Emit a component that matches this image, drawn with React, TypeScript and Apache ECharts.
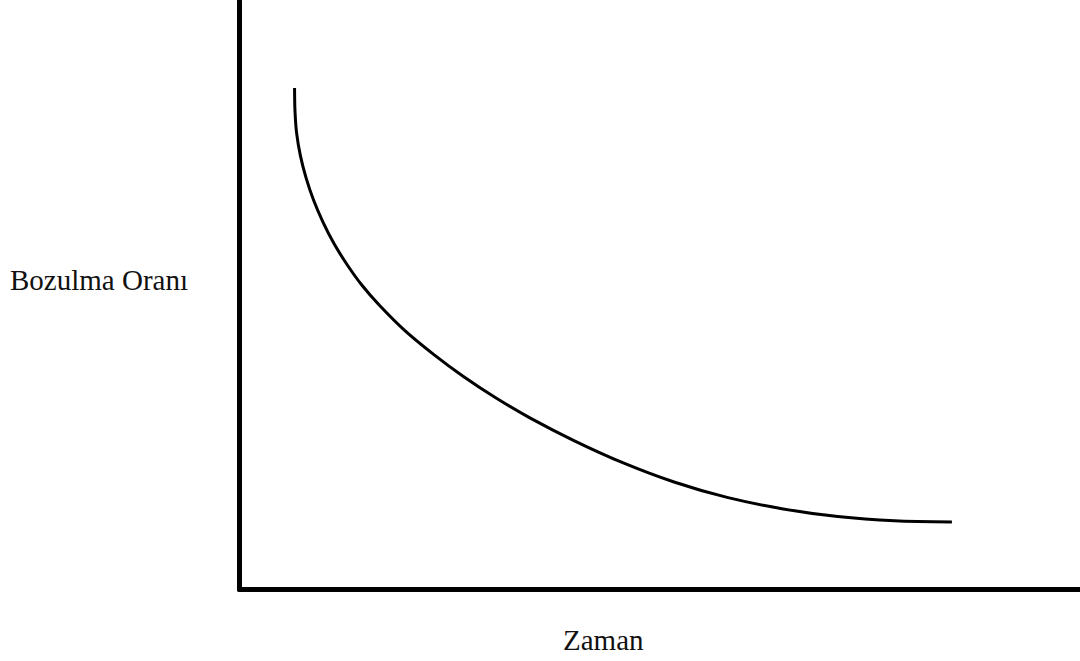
import React, { useEffect, useRef } from "react";
import * as echarts from "echarts";

// Curve (arbitrary units: x 0..100 time, y 0..100 rate)
const timeValues = [6.55, 6.6, 6.8, 7.25, 7.93, 8.82, 9.93, 11.24, 12.79, 14.55, 16.62, 19.68, 23.13, 26.64, 30.43, 34.49, 39.91, 45.66, 51.7, 58.01, 64.52, 71.18, 77.94, 84.76];
const rateValues = [85.22, 81.36, 77.5, 73.68, 69.89, 66.13, 62.43, 58.79, 55.23, 51.74, 48.34, 43.98, 39.9, 36.18, 32.61, 29.21, 25.22, 21.51, 18.27, 15.65, 13.73, 12.4, 11.67, 11.47];
const yAxisTitle = "Bozulma Oranı";
const xAxisTitle = "Zaman";

export default function App() {
  const ref = useRef<HTMLDivElement>(null);
  useEffect(() => {
    document.body.style.margin = "0";
    const chart = echarts.init(ref.current!, null, { renderer: "svg" });
    const data = timeValues.map((t, i) => [t, rateValues[i]]);
    const axisCommon = {
      type: "value" as const,
      min: 0,
      max: 100,
      axisLine: { show: true, lineStyle: { color: "#000", width: 5 } },
      axisTick: { show: false },
      axisLabel: { show: false },
      splitLine: { show: false },
    };
    chart.setOption({
      animation: false,
      backgroundColor: "#fff",
      grid: { left: 239.5, right: 0, top: 1, bottom: 71.5 },
      xAxis: { ...axisCommon },
      yAxis: { ...axisCommon },
      series: [
        {
          type: "line",
          data,
          smooth: 0.3,
          showSymbol: false,
          lineStyle: { color: "#000", width: 3 },
        },
      ],
      graphic: [
        {
          type: "text",
          left: 10,
          top: 265,
          style: {
            text: yAxisTitle,
            fontFamily: "Liberation Serif",
            fontSize: 29,
            fill: "#111",
          },
        },
        {
          type: "text",
          left: 563,
          top: 625,
          style: {
            text: xAxisTitle,
            fontFamily: "Liberation Serif",
            fontSize: 29,
            fill: "#111",
          },
        },
      ],
    });
    return () => chart.dispose();
  }, []);
  return <div ref={ref} style={{ width: 1080, height: 661 }} />;
}
